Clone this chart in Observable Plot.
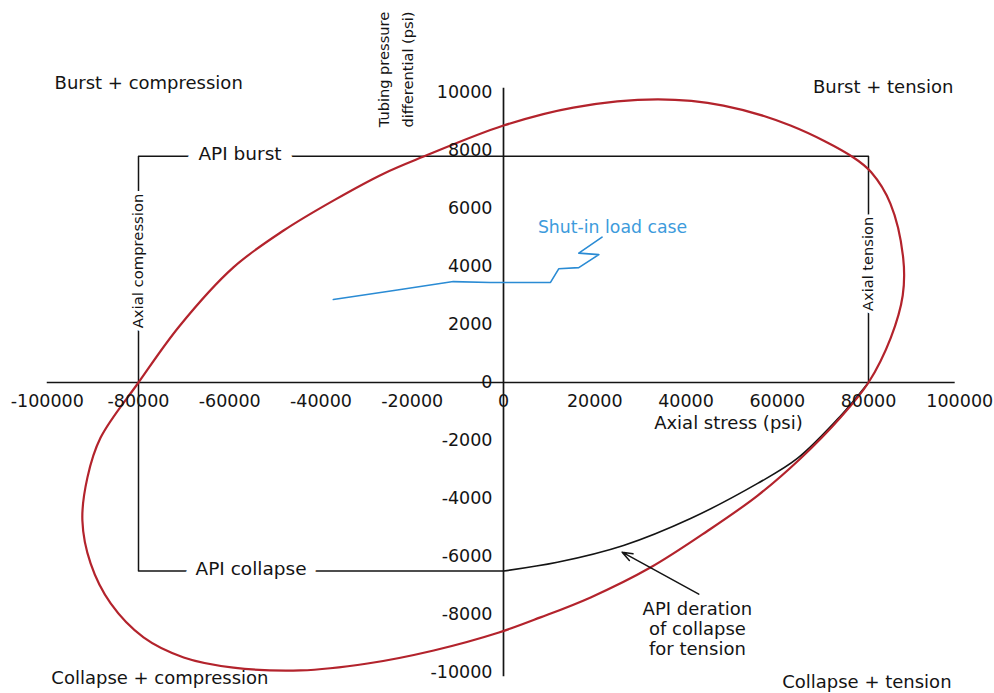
<!DOCTYPE html>
<html>
<head>
<meta charset="utf-8">
<script src="https://cdn.jsdelivr.net/npm/d3@7"></script>
<script src="https://cdn.jsdelivr.net/npm/@observablehq/plot@0.6"></script>
<style>
  html, body { margin: 0; padding: 0; background: #fff; }
  #chart svg { display: block; }
</style>
</head>
<body>
<div id="chart"></div>
<script>
// Axis tick values (psi)
const xTicks = [-100000, -80000, -60000, -40000, -20000, 0, 20000, 40000, 60000, 80000, 100000];
const yTicks = [-10000, -8000, -6000, -4000, -2000, 0, 2000, 4000, 6000, 8000, 10000];

// API design limits (psi)
const apiBurst = 7800;
const apiCollapse = -6500;
const axialYield = 80000;

// Triaxial (von Mises) envelope: [axial stress, pressure differential]
const vonMisesEnvelope = [
  [-80000, 0], [-71000, 1950], [-59200, 3970], [-48200, 5240], [-37200, 6280],
  [-26300, 7200], [-17500, 7790], [0, 8860], [15300, 9480], [33750, 9760],
  [48200, 9550], [62900, 8860], [76700, 7760], [80600, 7250], [84800, 6170],
  [87600, 4300], [87500, 3000], [84900, 1550], [80000, 0], [73900, -1200],
  [65100, -2620], [55700, -3900], [44700, -5120], [32200, -6380], [19100, -7410],
  [8100, -8100], [-1000, -8620], [-15300, -9240], [-29800, -9690], [-44500, -9930],
  [-59200, -9830], [-70100, -9480], [-78900, -8790], [-86100, -7620], [-90500, -6240],
  [-92300, -4760], [-91200, -3280], [-88300, -1900]
];

// API collapse derated for tension
const apiDeration = [
  [0, -6500], [11800, -6200], [26300, -5620], [41000, -4690],
  [55700, -3480], [64400, -2620], [73600, -1200], [80000, 0]
];

// Shut-in load case
const shutInLoad = [
  [-37300, 2860], [-24000, 3170], [-11000, 3480], [-2900, 3450], [10300, 3450],
  [12100, 3920], [16500, 3960], [20900, 4410], [16500, 4460], [21600, 5010]
];

const quadrantLabels = ["Burst + compression", "Burst + tension", "Collapse + compression", "Collapse + tension"];

// Rectangular API design box: collapse line, compression side, burst line, tension side
const apiBox = [
  [0, apiCollapse], [-axialYield, apiCollapse], [-axialYield, apiBurst],
  [axialYield, apiBurst], [axialYield, 0]
];

const ink = "#141414";
const font = "DejaVu Sans";

// compression-side names are left-aligned, tension-side names right-aligned
const leftQuadrants = [
  {label: quadrantLabels[0], x: -98400, y: 10310},
  {label: quadrantLabels[2], x: -99100, y: -10210}
];
const rightQuadrants = [
  {label: quadrantLabels[1], x: 98600, y: 10170},
  {label: quadrantLabels[3], x: 98200, y: -10340}
];

const chart = Plot.plot({
  width: 994,
  height: 693,
  marginLeft: 46.75,
  marginRight: 34.75,
  marginTop: 92,
  marginBottom: 21,
  x: {domain: [-100000, 100000], axis: null},
  y: {domain: [-10000, 10000], axis: null},
  style: {fontFamily: font, background: "#fff", color: ink, overflow: "visible"},
  marks: [
    // axes through the origin
    Plot.ruleY([0], {x1: -100000, x2: 99000, stroke: ink, strokeWidth: 1.7}),
    Plot.ruleX([0], {y1: -10150, y2: 10150, stroke: ink, strokeWidth: 1.7}),

    // API design box
    Plot.line(apiBox, {x: d => d[0], y: d => d[1], stroke: ink, strokeWidth: 1.5}),

    // labels sitting on the box lines, with a white halo to break the line
    Plot.text(["API burst"], {x: -57750, y: apiBurst, dy: -2, fontSize: 18.5, fill: ink,
      stroke: "#fff", strokeWidth: 22, paintOrder: "stroke"}),
    Plot.text(["API collapse"], {x: -55340, y: apiCollapse, dy: -2, fontSize: 18.5, fill: ink,
      stroke: "#fff", strokeWidth: 20, paintOrder: "stroke"}),
    Plot.text(["Axial compression"], {x: -axialYield, y: 4190, rotate: -90, fontSize: 14.8, fill: ink,
      stroke: "#fff", strokeWidth: 8, paintOrder: "stroke"}),
    Plot.text(["Axial tension"], {x: axialYield, y: 4090, rotate: -90, fontSize: 14.6, fill: ink,
      stroke: "#fff", strokeWidth: 7, paintOrder: "stroke"}),

    // derated collapse curve
    Plot.line(apiDeration, {x: d => d[0], y: d => d[1], curve: "catmull-rom", stroke: ink, strokeWidth: 1.6}),

    // von Mises ellipse
    Plot.line(vonMisesEnvelope, {x: d => d[0], y: d => d[1], curve: "catmull-rom-closed",
      stroke: "#b3232c", strokeWidth: 2.2}),

    // shut-in load case
    Plot.line(shutInLoad, {x: d => d[0], y: d => d[1], stroke: "#2a8bd4", strokeWidth: 1.6}),
    Plot.text(["Shut-in load case"], {x: 23900, y: 5345, fontSize: 17.3, fill: "#3d9bdc"}),

    // annotation arrow for the derated collapse curve
    Plot.arrow([{x1: 42800, y1: -7300, x2: 26000, y2: -5850}], {
      x1: "x1", y1: "y1", x2: "x2", y2: "y2", stroke: ink, strokeWidth: 1.5,
      headLength: 11, headAngle: 40, bend: 0
    }),
    Plot.text(["API deration\nof collapse\nfor tension"], {x: 42500, y: -8480, fontSize: 18,
      lineHeight: 1.1, fill: ink}),

    // tick labels
    Plot.text(xTicks, {x: d => d, y: 0, dy: 19, text: d => String(d), fontSize: 17.5, fill: ink}),
    Plot.text(yTicks, {x: 0, y: d => d, dx: -11, textAnchor: "end", text: d => String(d),
      fontSize: 17.5, fill: ink}),

    // axis titles
    Plot.text(["Axial stress (psi)"], {x: 49300, y: -1414, fontSize: 18, fill: ink}),
    Plot.text(["Tubing pressure\ndifferential (psi)"], {x: -24100, y: 10790, rotate: -90,
      fontSize: 14.6, lineHeight: 1.65, fill: ink}),

    // quadrant names
    Plot.text(leftQuadrants, {x: "x", y: "y", text: "label", textAnchor: "start", fontSize: 18, fill: ink}),
    Plot.text(rightQuadrants, {x: "x", y: "y", text: "label", textAnchor: "end", fontSize: 18, fill: ink})
  ]
});

document.getElementById("chart").appendChild(chart);
</script>
</body>
</html>
